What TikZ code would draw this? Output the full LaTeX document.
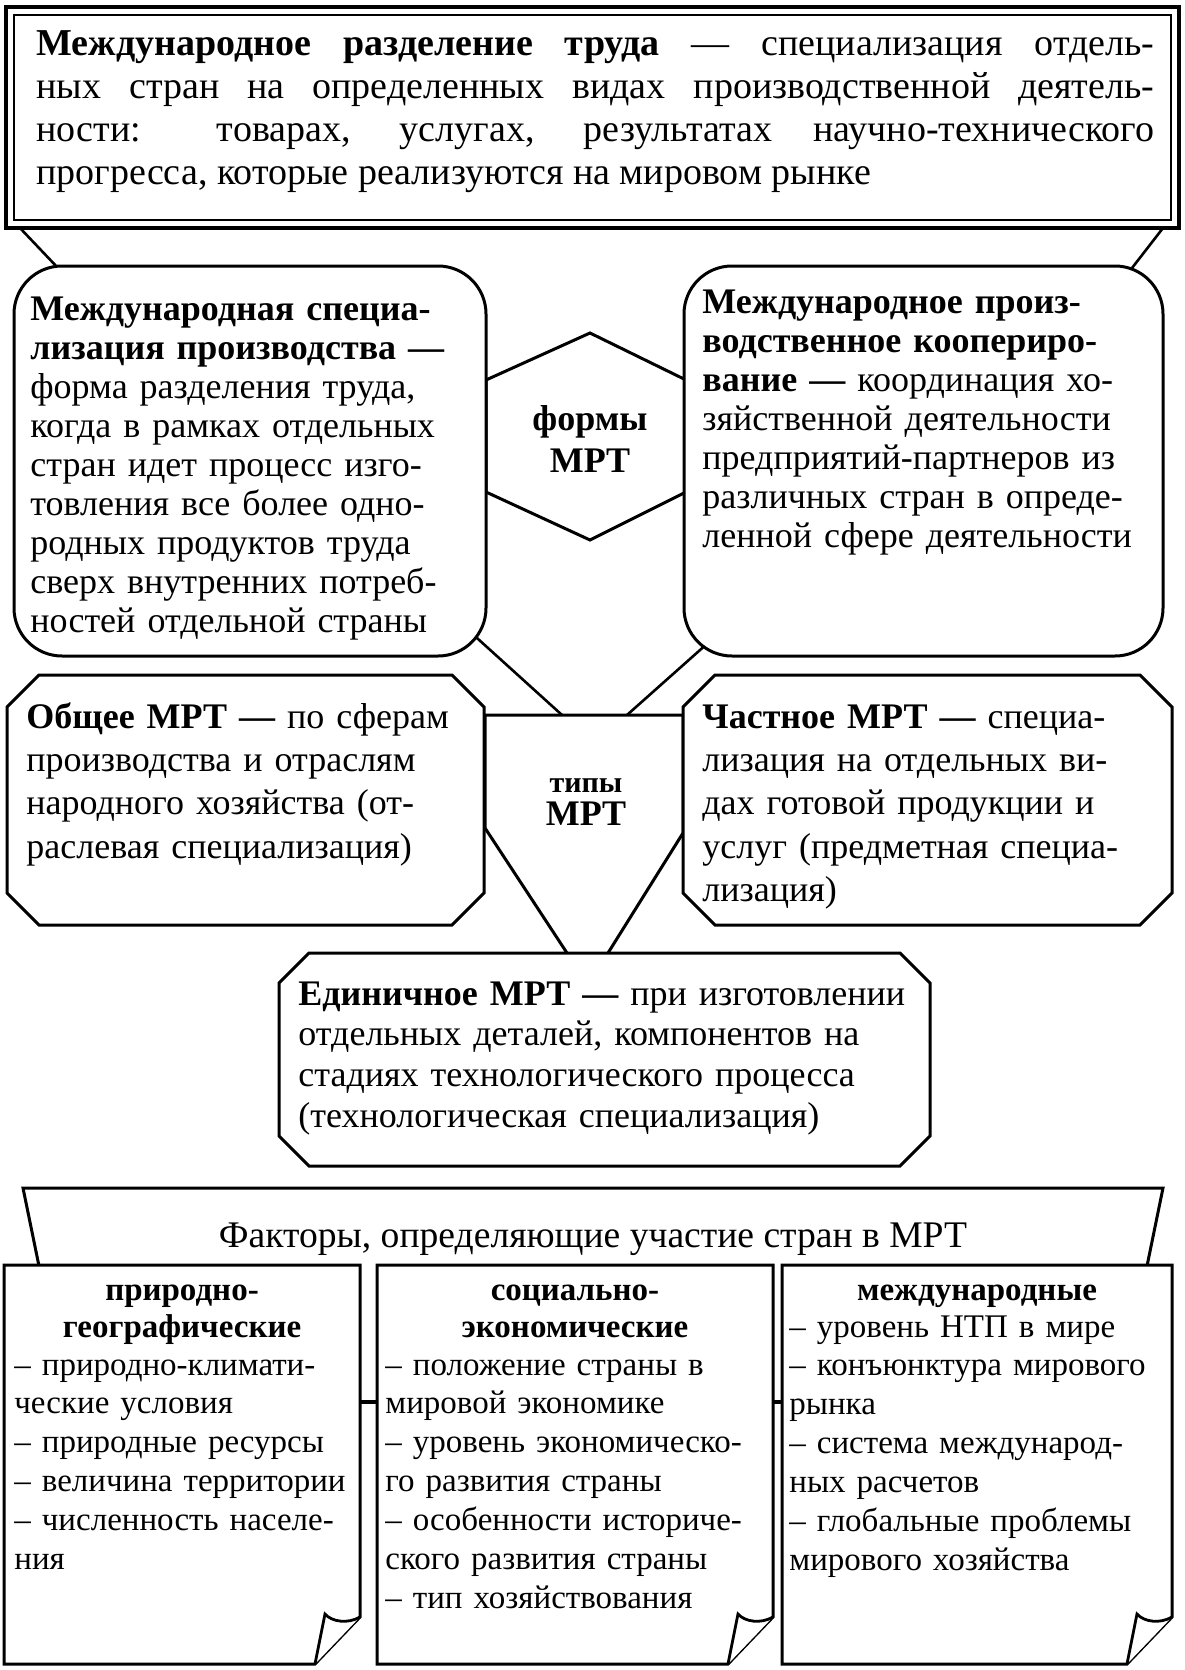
\documentclass[tikz,border=0pt]{standalone}
\usepackage{fontspec}
\setmainfont{Liberation Serif}
\newcommand\octshape[5]{%
  \draw[shapeline] ({#1+#5},#2) -- ({#3-#5},#2) -- (#3,{#2+#5}) -- (#3,{#4-#5}) -- ({#3-#5},#4) -- ({#1+#5},#4) -- (#1,{#4-#5}) -- (#1,{#2+#5}) -- cycle;}
\newcommand\docshape[4]{%
  \draw[shapeline] (#1,#2) -- (#3,#2) -- (#3,{#4-47}) -- ({#3-45},#4) -- (#1,#4) -- cycle;
  \draw[flapline] ({#3-45},#4) -- ({#3-35},{#4-50}) .. controls ({#3-28},{#4-42}) and ({#3-12},{#4-40}) .. (#3,{#4-47});}
\tikzset{
  shapeline/.style={line width=1.5pt, line join=miter, fill=white},
  flapline/.style={line width=1.4pt, line join=miter, fill=white},
  conn/.style={line width=1.3pt},
  txt/.style={inner sep=0pt, anchor=base west, align=left},
  boxfont/.style={font=\fontsize{18}{19.5}\selectfont},
  octfont/.style={font=\fontsize{18}{21.7}\selectfont},
  docfont/.style={font=\fontsize{16.5}{19.45}\selectfont},
  doctitle/.style={inner sep=0pt, anchor=base, align=center, font=\bfseries\fontsize{16.5}{18.5}\selectfont},
}
\begin{document}
\begin{tikzpicture}[x=0.5pt,y=-0.5pt]
\useasboundingbox[fill=white] (0,0) rectangle (1184,1670);

% connectors from top box to the two forms
\coordinate (tbL) at (20,228);
\coordinate (tbR) at (1163,228);
\coordinate (fmL) at (58,268);
\coordinate (fmR) at (1132,268);
\draw[conn] (tbL) -- (fmL);
\draw[conn] (tbR) -- (fmR);

% hexagon "forms"
\draw[shapeline] (590,333) -- (686,380) -- (686,492) -- (590,540) -- (486,492) -- (486,380) -- cycle;

% connectors from forms to types
\coordinate (fmLin) at (435,600);
\coordinate (fmRin) at (736,618);
\coordinate (tyL) at (562,715);
\coordinate (tyR) at (627,715);
\draw[conn] (fmLin) -- (tyL);
\draw[conn] (fmRin) -- (tyR);

% types shape
\draw[shapeline] (485,715) -- (683,715) -- (683,833) -- (588,985) -- (485,828) -- cycle;

% rounded boxes
\draw[shapeline, rounded corners=24pt] (14,266) rectangle (486,656);
\draw[shapeline, rounded corners=24pt] (684,266) rectangle (1163,656);

% octagons
\octshape{7}{675}{484}{925}{32}
\octshape{683}{675}{1172}{925}{32}
\octshape{279}{953}{930}{1166}{30}

% factors banner
\draw[shapeline] (39,1266) -- (23,1188) -- (1163,1188) -- (1147,1266);

% document boxes
\docshape{4}{1265}{360}{1664}
\docshape{377}{1265}{773}{1664}
\docshape{782}{1265}{1172}{1664}
\coordinate (d1r) at (360,1402);
\coordinate (d2l) at (377,1402);
\coordinate (d2r) at (773,1402);
\coordinate (d3l) at (782,1402);
\draw[line width=2pt] (d1r) -- (d2l);
\draw[line width=2pt] (d2r) -- (d3l);

% top box
\draw[line width=1.8pt] (6,7) rectangle (1179,228);
\draw[line width=1pt] (14,15) rectangle (1171,220);

% texts
\node[txt, text width=559pt, align=justify, font=\fontsize{19}{21.5}\selectfont] (def) at (36,55)
 {\hyphenpenalty=10000\tolerance=9999\relax
  {\bfseries Международное разделение труда} — специализация отдель-\linebreak
  ных стран на определенных видах производственной деятель-\linebreak
  ности: товарах, услугах, результатах научно-технического\linebreak
  прогресса, которые реализуются на мировом рынке};

\node[txt, boxfont, text width=224pt] (spec) at (30,320)
 {{\bfseries Международная специа-}\\
  {\bfseries лизация производства —}\\
  форма разделения труда,\\
  когда в рамках отдельных\\
  стран идет процесс изго-\\
  товления все более одно-\\
  родных продуктов труда\\
  сверх внутренних потреб-\\
  ностей отдельной страны};

\node[txt, boxfont, text width=228pt] (coop) at (702,313)
 {{\bfseries Международное произ-}\\
  {\bfseries водственное коопериро-}\\
  {\bfseries вание —} координация хо-\\
  зяйственной деятельности\\
  предприятий-партнеров из\\
  различных стран в опреде-\\
  ленной сфере деятельности};

\node[inner sep=0pt, anchor=base, align=center, font=\bfseries\fontsize{18}{21}\selectfont] (forms) at (590,472)
 {формы\\МРТ};

\node[txt, octfont, text width=227pt] (gen) at (26,728)
 {{\bfseries Общее МРТ —} по сферам\\
  производства и отраслям\\
  народного хозяйства (от-\\
  раслевая специализация)};

\node[txt, octfont, text width=233pt] (part) at (702,728)
 {{\bfseries Частное МРТ —} специа-\\
  лизация на отдельных ви-\\
  дах готовой продукции и\\
  услуг (предметная специа-\\
  лизация)};

\node[inner sep=0pt, anchor=base, font=\bfseries\fontsize{15}{16}\selectfont] (typesA) at (586,792) {типы};
\node[inner sep=0pt, anchor=base, font=\bfseries\fontsize{18}{20}\selectfont] (typesB) at (586,825) {МРТ};

\node[txt, font=\fontsize{18}{20.35}\selectfont, text width=313pt] (unit) at (298,1005)
 {{\bfseries Единичное МРТ —} при изготовлении\\
  отдельных деталей, компонентов на\\
  стадиях технологического процесса\\
  (технологическая специализация)};

\node[inner sep=0pt, anchor=base, font=\fontsize{18.8}{20}\selectfont] (factors) at (593,1247)
 {Факторы, определяющие участие стран в МРТ};

\node[doctitle] (t1) at (182,1337) {природно-\\географические};
\node[txt, docfont, text width=171pt] (i1) at (14,1375)
 {– природно-климати-\\
  ческие условия\\
  – природные ресурсы\\
  – величина территории\\
  – численность населе-\\
  ния};

\node[doctitle] (t2) at (575,1337) {социально-\\экономические};
\node[txt, docfont, text width=192pt] (i2) at (385,1375)
 {– положение страны в\\
  мировой экономике\\
  – уровень экономическо-\\
  го развития страны\\
  – особенности историче-\\
  ского развития страны\\
  – тип хозяйствования};

\node[doctitle] (t3) at (977,1300) {международные};
\node[txt, docfont, text width=190pt] (i3) at (789,1337)
 {– уровень НТП в мире\\
  – конъюнктура мирового\\
  рынка\\
  – система международ-\\
  ных расчетов\\
  – глобальные проблемы\\
  мирового хозяйства};
\end{tikzpicture}
\end{document}
